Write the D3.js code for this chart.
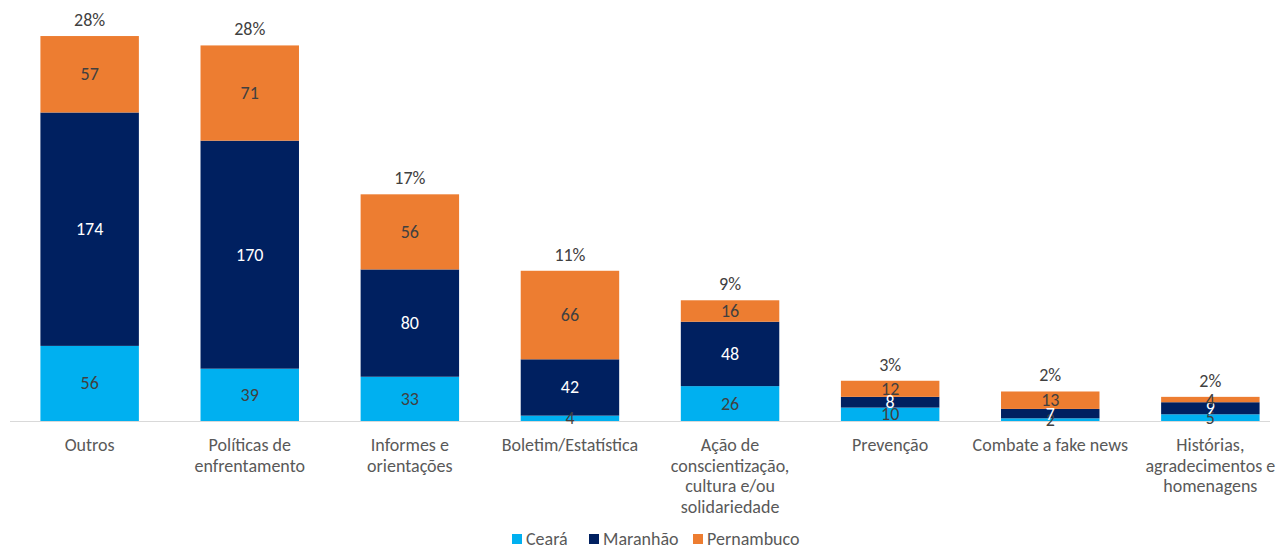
<!DOCTYPE html>
<html>
<head>
<meta charset="utf-8">
<script src="https://cdn.jsdelivr.net/npm/d3@7"></script>
<style>
  html, body { margin: 0; padding: 0; background: #fff; }
  svg { display: block; font-family: Calibri, Carlito, Lato, "Open Sans", sans-serif; }
</style>
</head>
<body>
<svg id="chart" width="1280" height="550"></svg>
<script>
// Categories (line breaks mark how each axis label wraps)
const categories = [
  "Outros",
  "Políticas de\nenfrentamento",
  "Informes e\norientações",
  "Boletim/Estatística",
  "Ação de\nconscientização,\ncultura e/ou\nsolidariedade",
  "Prevenção",
  "Combate a fake news",
  "Histórias,\nagradecimentos e\nhomenagens"
];

const seriesNames = ["Ceará", "Maranhão", "Pernambuco"];
const ceara      = [56, 39, 33, 4, 26, 10, 2, 5];
const maranhao   = [174, 170, 80, 42, 48, 8, 7, 9];
const pernambuco = [57, 71, 56, 66, 16, 12, 13, 4];

const colors = ["#00B0F0", "#002060", "#ED7D31"];
const labelColors = ["#404040", "#FFFFFF", "#404040"];
const fontSize = 18;

const rows = categories.map((c, i) => ({
  cat: c,
  "Ceará": ceara[i],
  "Maranhão": maranhao[i],
  "Pernambuco": pernambuco[i]
}));
const totals = rows.map(r => seriesNames.reduce((s, k) => s + r[k], 0));
const grand = d3.sum(totals);

const svg = d3.select("#chart");

const x = d3.scaleBand()
  .domain(categories)
  .range([10, 1290])
  .paddingInner(0.385)
  .paddingOuter(0.19);

const y = d3.scaleLinear()
  .domain([0, 300])
  .range([421, 18.6]);

const stack = d3.stack().keys(seriesNames);
const stacked = stack(rows);

// Bars
const groups = svg.append("g").selectAll("g")
  .data(stacked)
  .join("g")
  .attr("fill", (d, i) => colors[i]);

groups.selectAll("rect")
  .data(d => d)
  .join("rect")
  .attr("x", d => x(d.data.cat))
  .attr("width", x.bandwidth())
  .attr("y", d => y(d[1]))
  .attr("height", d => y(d[0]) - y(d[1]));

// Axis line
svg.append("line")
  .attr("x1", 10).attr("x2", 1270)
  .attr("y1", y(0) + 0.5).attr("y2", y(0) + 0.5)
  .attr("stroke", "#D9D9D9")
  .attr("stroke-width", 1);

// Segment value labels
stacked.forEach((s, si) => {
  svg.append("g").selectAll("text")
    .data(s)
    .join("text")
    .attr("x", d => x(d.data.cat) + x.bandwidth() / 2)
    .attr("y", d => (y(d[0]) + y(d[1])) / 2)
    .attr("text-anchor", "middle")
    .attr("dominant-baseline", "central")
    .attr("font-size", fontSize)
    .attr("fill", labelColors[si])
    .text(d => d[1] - d[0]);
});

// Share of total above each bar
svg.append("g").selectAll("text")
  .data(rows)
  .join("text")
  .attr("x", d => x(d.cat) + x.bandwidth() / 2)
  .attr("y", (d, i) => y(totals[i]) - 16)
  .attr("text-anchor", "middle")
  .attr("dominant-baseline", "central")
  .attr("font-size", fontSize)
  .attr("fill", "#404040")
  .text((d, i) => Math.round(totals[i] / grand * 100) + "%");

// Category labels
const catLabels = svg.append("g").selectAll("text")
  .data(categories)
  .join("text")
  .attr("x", d => x(d) + x.bandwidth() / 2)
  .attr("y", 445)
  .attr("text-anchor", "middle")
  .attr("dominant-baseline", "central")
  .attr("font-size", fontSize)
  .attr("fill", "#595959");
catLabels.each(function(d) {
  const t = d3.select(this);
  d.split("\n").forEach((line, li) => {
    t.append("tspan")
      .attr("x", x(d) + x.bandwidth() / 2)
      .attr("dy", li === 0 ? 0 : 20.5)
      .text(line);
  });
});

// Legend
const legendX = [512, 589, 693];
const legend = svg.append("g").selectAll("g")
  .data(seriesNames)
  .join("g")
  .attr("transform", (d, i) => `translate(${legendX[i]},539)`);
legend.append("rect")
  .attr("x", 0).attr("y", -5)
  .attr("width", 10).attr("height", 10)
  .attr("fill", (d, i) => colors[i]);
legend.append("text")
  .attr("x", 14).attr("y", 0)
  .attr("dominant-baseline", "central")
  .attr("font-size", fontSize)
  .attr("fill", "#595959")
  .text(d => d);
</script>
</body>
</html>
